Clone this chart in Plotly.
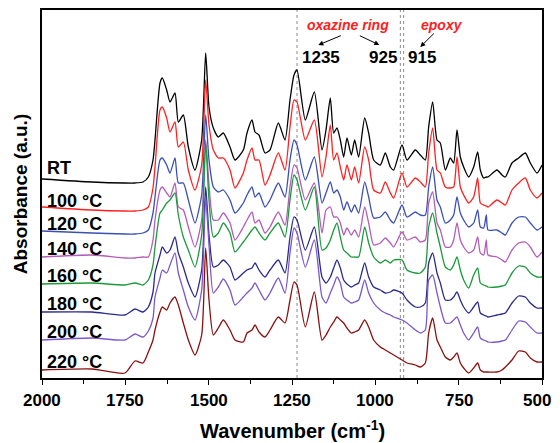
import plotly.graph_objects as go

wavenumber = [2000, 1850, 1751, 1721, 1697, 1681, 1667, 1661, 1646, 1639,
              1626, 1616, 1601, 1591, 1576, 1561, 1541, 1521, 1509, 1499,
              1486, 1471, 1456, 1436, 1421, 1396, 1385, 1370, 1361, 1349,
              1331, 1316, 1291, 1271, 1256, 1244, 1235, 1210, 1183, 1160,
              1148, 1135, 1125, 1115, 1105, 1095, 1085, 1072, 1062, 1050,
              1032, 1020, 1005, 985, 970, 955, 945, 920, 905, 880,
              865, 850, 840, 828, 815, 805, 790, 775, 765, 755,
              745, 735, 720, 705, 693, 685, 675, 667, 662, 635,
              620, 610, 590, 570, 550, 535, 515, 500]

abs_RT = [221, 218, 217, 217, 218, 223, 240, 260, 317, 322,
          310, 298, 307, 278, 285, 253, 230, 260, 347, 293,
          272, 263, 267, 253, 240, 250, 267, 280, 268, 265,
          247, 250, 277, 260, 300, 325, 330, 280, 308, 250,
          270, 302, 267, 272, 260, 243, 262, 245, 260, 243,
          282, 267, 240, 235, 247, 233, 230, 255, 240, 250,
          245, 240, 273, 298, 260, 257, 230, 242, 237, 270,
          243, 233, 223, 233, 248, 230, 222, 223, 223, 230,
          225, 223, 237, 242, 247, 237, 227, 235]

abs_100 = [193, 190, 189, 189, 190, 193, 212, 233, 290, 293,
           282, 268, 278, 253, 258, 230, 210, 235, 320, 275,
           250, 242, 242, 230, 212, 227, 240, 252, 240, 240,
           215, 225, 247, 230, 273, 300, 298, 260, 280, 223,
           243, 275, 240, 247, 233, 220, 235, 220, 233, 217,
           253, 240, 210, 207, 218, 207, 202, 227, 213, 222,
           218, 213, 247, 272, 230, 227, 213, 212, 213, 243,
           213, 205, 197, 203, 222, 197, 195, 194, 193, 200,
           197, 195, 210, 217, 222, 210, 202, 207]

abs_120 = [169, 167, 166, 166, 167, 170, 187, 203, 240, 242,
           235, 227, 242, 217, 217, 200, 177, 205, 285, 240,
           213, 208, 210, 200, 187, 197, 205, 213, 203, 207,
           193, 200, 217, 203, 240, 260, 255, 220, 243, 197,
           207, 218, 207, 210, 203, 190, 198, 188, 195, 187,
           218, 203, 182, 183, 188, 180, 177, 195, 183, 188,
           185, 185, 213, 233, 200, 193, 177, 180, 185, 203,
           187, 180, 173, 177, 190, 173, 172, 185, 170, 170,
           167, 165, 177, 183, 183, 177, 170, 173]

abs_140 = [143, 145, 142, 142, 143, 143, 160, 180, 210, 213,
           207, 203, 217, 193, 190, 173, 153, 180, 260, 215,
           180, 180, 187, 177, 160, 173, 180, 188, 177, 180,
           167, 173, 188, 175, 213, 235, 232, 200, 217, 167,
           190, 193, 183, 183, 177, 165, 172, 165, 170, 163,
           193, 177, 155, 157, 162, 157, 153, 168, 160, 163,
           158, 160, 197, 208, 177, 170, 153, 153, 160, 177,
           160, 153, 147, 150, 163, 147, 145, 160, 145, 143,
           140, 138, 150, 157, 158, 153, 143, 148]

abs_160 = [116, 117, 115, 117, 115, 120, 135, 153, 187, 190,
           197, 200, 207, 185, 163, 150, 133, 165, 257, 200,
           163, 167, 177, 167, 148, 158, 163, 170, 173, 167,
           160, 167, 177, 163, 200, 225, 220, 190, 213, 150,
           152, 160, 170, 177, 163, 150, 147, 143, 143, 143,
           173, 157, 143, 137, 140, 137, 140, 140, 130, 127,
           127, 133, 173, 187, 167, 153, 133, 130, 135, 143,
           130, 120, 112, 125, 132, 117, 115, 114, 113, 113,
           114, 115, 127, 134, 133, 127, 123, 123]

abs_180 = [88, 88, 85, 91, 88, 93, 108, 127, 145, 153,
           147, 150, 163, 147, 133, 117, 103, 130, 213, 165,
           133, 135, 140, 133, 120, 127, 130, 132, 137, 130,
           123, 130, 140, 127, 163, 183, 180, 150, 173, 123,
           117, 123, 132, 140, 132, 120, 116, 113, 115, 117,
           137, 123, 113, 110, 107, 108, 110, 107, 100, 93,
           93, 97, 137, 147, 127, 117, 100, 100, 103, 108,
           100, 93, 87, 93, 98, 87, 85, 84, 83, 85,
           86, 87, 97, 104, 103, 97, 92, 92]

abs_200 = [60, 62, 60, 66, 63, 69, 82, 103, 122, 130,
           127, 135, 147, 127, 110, 93, 80, 110, 203, 155,
           107, 113, 121, 110, 95, 103, 107, 112, 117, 110,
           100, 107, 122, 107, 147, 172, 167, 133, 160, 103,
           97, 107, 115, 123, 117, 103, 100, 97, 98, 100,
           120, 107, 97, 90, 87, 85, 83, 80, 77, 70,
           67, 70, 120, 125, 107, 93, 77, 77, 80, 83,
           75, 67, 60, 67, 73, 62, 60, 59, 58, 58,
           59, 60, 70, 79, 78, 73, 67, 67]

abs_220 = [30, 31, 27, 39, 37, 48, 60, 70, 88, 93,
           90, 97, 103, 95, 77, 60, 45, 65, 152, 100,
           65, 72, 80, 70, 60, 58, 67, 70, 75, 68,
           63, 70, 83, 77, 100, 118, 115, 73, 108, 60,
           65, 73, 78, 83, 80, 77, 72, 67, 68, 70,
           80, 73, 60, 53, 50, 47, 45, 40, 37, 35,
           33, 37, 67, 82, 60, 53, 43, 40, 43, 47,
           37, 32, 27, 32, 37, 30, 28, 28, 28, 28,
           30, 33, 40, 49, 48, 42, 38, 38]

series_names = ["RT", "100 °C", "120 °C", "140 °C", "160 °C", "180 °C", "200 °C", "220 °C"]
series_values = [abs_RT, abs_100, abs_120, abs_140, abs_160, abs_180, abs_200, abs_220]
series_colors = ["#000000", "#ff2020", "#3a4fb5", "#b45cb8", "#1a9a3a", "#2a2a8c", "#7a58cc", "#8b1010"]
label_y = [232, 199, 176, 151, 124, 96, 68, 38]

x_ticks = [2000, 1750, 1500, 1250, 1000, 750, 500]
x_tick_labels = ["2000", "1750", "1500", "1250", "1000", "750", "500"]
marker_wn = [1235, 925, 915]

FONT = "Liberation Sans, Arial, sans-serif"

fig = go.Figure()
for name, vals, col in zip(series_names, series_values, series_colors):
    assert len(vals) == len(wavenumber)
    fig.add_trace(go.Scatter(x=wavenumber, y=vals, mode="lines", name=name,
                             line=dict(color=col, width=1.3, shape="spline", smoothing=0.6),
                             showlegend=False, hoverinfo="skip"))

for wn in marker_wn:
    fig.add_shape(type="line", x0=wn, x1=wn, y0=0, y1=1, xref="x", yref="paper",
                  line=dict(color="#8a8a8a", width=1, dash="dot"), layer="below")

annotations = []
for name, ly in zip(series_names, label_y):
    annotations.append(dict(x=1991, y=ly, xref="x", yref="y", text=name, showarrow=False,
                            xanchor="left", yanchor="middle",
                            font=dict(family=FONT, size=18, color="black", weight="bold")))

# tick labels (drawn as text so the last one is not dropped at the page edge)
for tv, tt in zip(x_ticks, x_tick_labels):
    annotations.append(dict(x=tv, y=-0.06, xref="x", yref="paper", text=tt, showarrow=False,
                            xanchor="center", yanchor="middle",
                            xshift=-5 if tv == x_ticks[-1] else 0,
                            font=dict(family=FONT, size=17, color="black", weight="bold")))

annotations += [
    dict(x=1081, y=375, xref="x", yref="y", text="oxazine ring", showarrow=False,
         font=dict(family=FONT, size=14, color="#ff2020", weight="bold", style="italic")),
    dict(x=799, y=375, xref="x", yref="y", text="epoxy", showarrow=False,
         font=dict(family=FONT, size=14, color="#ff2020", weight="bold", style="italic")),
    dict(x=1162, y=343, xref="x", yref="y", text="1235", showarrow=False,
         font=dict(family=FONT, size=17, color="black", weight="bold")),
    dict(x=976, y=343, xref="x", yref="y", text="925", showarrow=False,
         font=dict(family=FONT, size=17, color="black", weight="bold")),
    dict(x=859, y=343, xref="x", yref="y", text="915", showarrow=False,
         font=dict(family=FONT, size=17, color="black", weight="bold")),
    dict(x=1171, y=355, ax=1099, ay=365, xref="x", yref="y", axref="x", ayref="y",
         text="", showarrow=True, arrowhead=2, arrowsize=1, arrowwidth=1, arrowcolor="black"),
    dict(x=988, y=355, ax=1051, ay=365, xref="x", yref="y", axref="x", ayref="y",
         text="", showarrow=True, arrowhead=2, arrowsize=1, arrowwidth=1, arrowcolor="black"),
    dict(x=865, y=353, ax=820, ay=368, xref="x", yref="y", axref="x", ayref="y",
         text="", showarrow=True, arrowhead=2, arrowsize=1, arrowwidth=1, arrowcolor="black"),
    # x-axis title
    dict(x=0.5, y=-0.141, xref="paper", yref="paper", text="Wavenumber (cm<sup>-1</sup>)",
         showarrow=False, xanchor="center", yanchor="middle",
         font=dict(family=FONT, size=20, color="black", weight="bold")),
]

# the page body adds an 8 px margin, so the figure is placed 8 px in from the corner
fig.update_layout(
    width=544, height=435,
    margin=dict(l=34, r=10, t=2, b=65),
    paper_bgcolor="white", plot_bgcolor="white",
    annotations=annotations,
    xaxis=dict(range=[2000, 500], tickvals=x_ticks, showticklabels=False,
               ticks="outside", ticklen=5, tickwidth=1.2, tickcolor="black",
               minor=dict(ticks="outside", dtick=125, tick0=500, ticklen=4, tickcolor="black"),
               showline=True, linecolor="black", linewidth=1.5, mirror=True,
               showgrid=False, zeroline=False, automargin=False),
    yaxis=dict(range=[22, 390], showticklabels=False, ticks="",
               showline=True, linecolor="black", linewidth=1.5, mirror=True,
               showgrid=False, zeroline=False, automargin=False,
               title=dict(text="Absorbance (a.u.)", standoff=8,
                          font=dict(family=FONT, size=19, color="black", weight="bold"))),
)

fig.write_html("out.html")
